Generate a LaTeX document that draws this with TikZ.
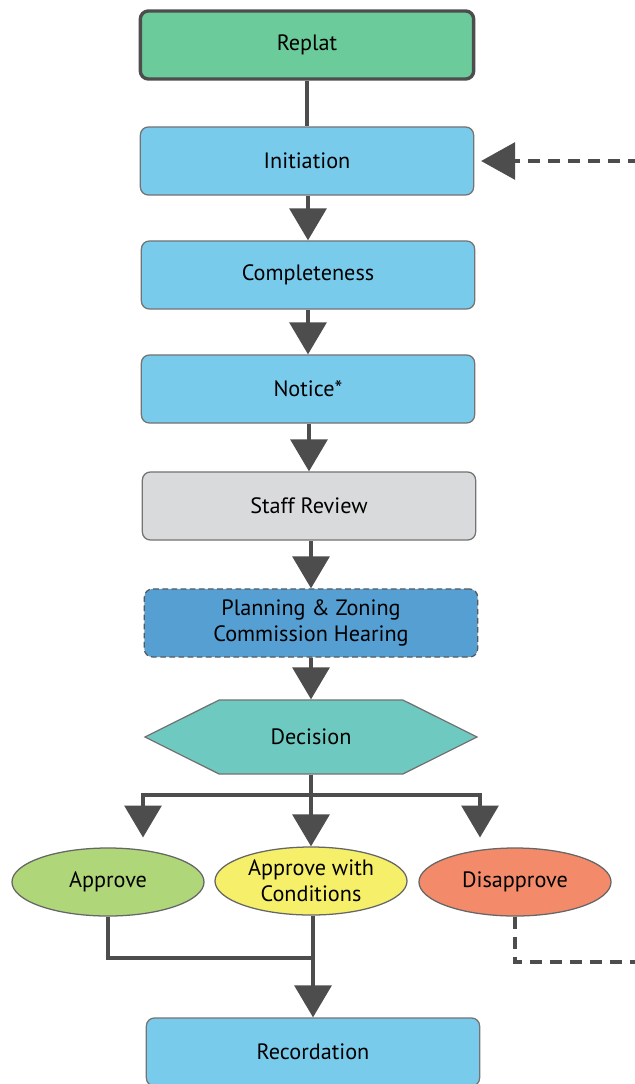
\documentclass[tikz,border=0pt]{standalone}
\usepackage{fontspec}
\setmainfont{PT Sans}
\usetikzlibrary{arrows.meta,shapes.geometric,shapes.symbols}

\definecolor{replatgreen}{HTML}{6BCB9A}
\definecolor{stepblue}{HTML}{79CBEC}
\definecolor{reviewgray}{HTML}{D9DADB}
\definecolor{hearingblue}{HTML}{559FD2}
\definecolor{decisionteal}{HTML}{6ECAC0}
\definecolor{approvegreen}{HTML}{B0D67A}
\definecolor{condyellow}{HTML}{F5EF6A}
\definecolor{denyred}{HTML}{F38B6B}
\definecolor{linegray}{HTML}{4D4D4D}

\begin{document}
\begin{tikzpicture}[x=0.025cm, y=-0.025cm,
    box/.style={draw=black!55, line width=0.9pt, rounded corners=0.2cm,
        minimum width=8.33cm, minimum height=1.7cm, align=center,
        font=\fontsize{15.8}{18.5}\selectfont},
    oval/.style={ellipse, draw=black!60, line width=0.9pt, inner sep=0pt,
        minimum width=4.8cm, minimum height=1.7cm, align=center,
        font=\fontsize{15.8}{18.5}\selectfont},
    link/.style={draw=linegray, line width=2.8pt},
    arr/.style={link, -{Triangle[width=0.92cm, length=0.8cm]}},
    loop/.style={draw=linegray, line width=2.6pt, dash pattern=on 0.3cm off 0.2cm}]
    \useasboundingbox (0,0) rectangle (635,1084);

    % main steps
    \node[box, fill=replatgreen, draw=linegray, line width=2.4pt] (replat) at (307,45) {Replat};
    \node[box, fill=stepblue] (init) at (307,161) {Initiation};
    \node[box, fill=stepblue] (compl) at (308,275) {Completeness};
    \node[box, fill=stepblue] (notice) at (308,389) {Notice*};
    \node[box, fill=reviewgray] (review) at (309,506) {Staff Review};
    \node[box, fill=hearingblue, draw=black!65, dash pattern=on 4pt off 2.5pt] (hearing) at (311,623) {Planning \& Zoning\\Commission Hearing};
    \node[signal, signal to=west and east, signal pointer angle=53, fill=decisionteal,
        draw=black!55, line width=0.9pt, minimum width=8.3cm, minimum height=1.85cm,
        font=\fontsize{15.8}{18.5}\selectfont] (decision) at (311,737) {Decision};

    % outcomes
    \node[oval, fill=approvegreen] (app) at (108,882) {Approve};
    \node[oval, fill=condyellow] (cond) at (311,881) {Approve with\\Conditions};
    \node[oval, fill=denyred] (deny) at (515,882) {Disapprove};
    \node[box, fill=stepblue] (record) at (313,1052) {Recordation};

    % connectors
    \draw[link] (replat) -- (replat |- init.north);
    \draw[arr] (init.south -| compl) -- (compl.north);
    \draw[arr] (compl) -- (notice);
    \draw[arr] (notice.south -| review) -- (review.north);
    \draw[arr] (review.south -| hearing) -- (hearing.north);
    \draw[arr] (hearing) -- (decision);

    \coordinate (fork) at (311,795);
    \coordinate (forkL) at (143,795);
    \coordinate (forkR) at (480,795);
    \draw[arr] (decision.south) -- (cond.north);
    \draw[arr, shorten >=7pt] (fork) -| (forkL |- app.north);
    \draw[arr, shorten >=7pt] (fork) -| (forkR |- deny.north);

    \coordinate (join) at (313,958);
    \draw[link] (app.south) |- (join);
    \draw[arr] (cond.south -| record) -- (record.north);

    % return loop
    \coordinate (loopA) at (640,962);
    \coordinate (loopB) at (640,161);
    \draw[loop] (deny.south) |- (loopA);
    \draw[loop, -{Triangle[width=0.92cm, length=0.85cm]}, shorten >=0.17cm] (loopB) -- (init.east);
\end{tikzpicture}
\end{document}
